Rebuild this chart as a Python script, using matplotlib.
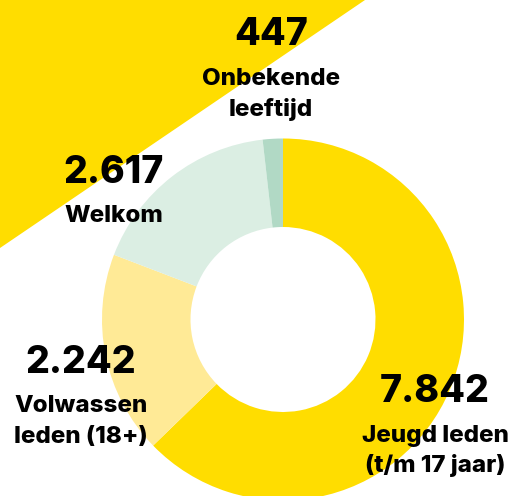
import matplotlib.pyplot as plt
from matplotlib.patches import Polygon

# ledenaantallen (labels) en aandeel in de ring zoals getekend
categories = ["Jeugd leden", "Volwassen leden", "Welkom", "Onbekende leeftijd"]
counts = ["7.842", "2.242", "2.617", "447"]
label_lines = [
    ["Jeugd leden", "(t/m 17 jaar)"],
    ["Volwassen", "leden (18+)"],
    ["Welkom"],
    ["Onbekende", "leeftijd"],
]
shares = [62.8, 18.1, 17.4, 1.8]
colors = ["#FFDD00", "#FFEA96", "#DBEEE3", "#B1D9C5"]

W, H = 517, 496
plt.rcParams["font.family"] = ["Inter", "Lato", "DejaVu Sans"]

fig = plt.figure(figsize=(W / 100, H / 100), dpi=100)
ax = fig.add_axes([0, 0, 1, 1])

# gele driehoek linksboven
ax.add_patch(Polygon([(0, H), (365, H), (0, H - 248)], closed=True,
                     facecolor="#FFDD00", edgecolor="none", zorder=0))

# donut
ax.pie(shares, colors=colors, startangle=90, counterclock=False,
       radius=181, center=(283, H - 319.5),
       wedgeprops=dict(width=88.5, linewidth=0))

ax.set_xlim(0, W)
ax.set_ylim(0, H)
ax.set_aspect("equal")
ax.axis("off")

# posities van de teksten (x-midden, basislijn getal, basislijnen labels) in pixels
text_pos = [
    (435, 402, [442, 472]),
    (81, 373, [412, 443]),
    (114, 183, [222]),
    (271, 45, [85, 116]),
]

for num, lines, (x, yb, ylines) in zip(counts, label_lines, text_pos):
    ax.text(x, H - yb, num, ha="center", va="baseline", fontsize=27,
            fontweight="heavy", color="black")
    for line, yl in zip(lines, ylines):
        ax.text(x, H - yl, line, ha="center", va="baseline", fontsize=17.4,
                fontweight="heavy", color="black")

fig.savefig("out.png", dpi=100)
